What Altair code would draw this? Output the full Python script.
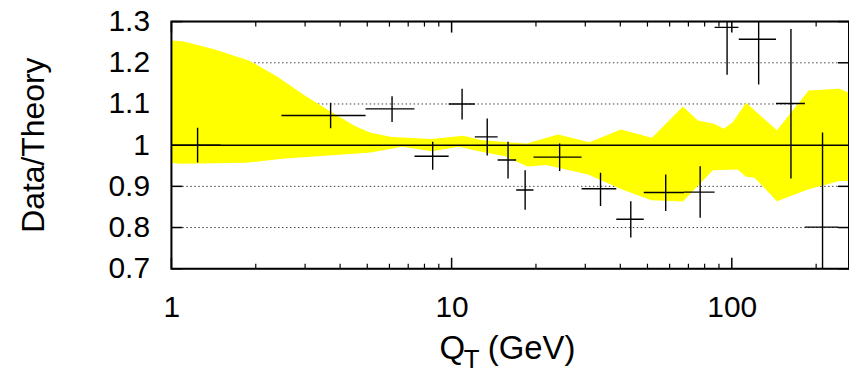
import math
import altair as alt
import pandas as pd

# ---- data ----
pt_x = [1.24, 3.70, 6.13, 8.56, 10.9, 13.4, 15.9, 18.3, 24.3, 34.0, 43.6, 58.1, 77.1, 96.2, 124.7, 162.6, 210.8]
pt_xlo = [1.0, 2.47, 4.93, 7.37, 9.76, 12.1, 14.6, 17.0, 19.6, 29.1, 38.7, 48.5, 67.5, 86.8, 105.9, 143.8, 182.4]
pt_xhi = [1.5, 4.93, 7.37, 9.76, 12.1, 14.6, 17.0, 19.6, 29.1, 38.7, 48.5, 67.5, 86.8, 105.6, 143.8, 182.4, 239.8]
pt_y = [1.000, 1.072, 1.088, 0.973, 1.100, 1.020, 0.964, 0.891, 0.971, 0.894, 0.820, 0.885, 0.886, 1.286, 1.257, 1.101, 0.801]
pt_ylo = [0.958, 1.041, 1.056, 0.940, 1.062, 0.975, 0.919, 0.843, 0.937, 0.852, 0.776, 0.840, 0.824, 1.171, 1.147, 0.919, 0.571]
pt_yhi = [1.042, 1.103, 1.119, 1.008, 1.137, 1.065, 1.008, 0.939, 1.004, 0.933, 0.864, 0.929, 0.949, 1.400, 1.367, 1.282, 1.031]

band_up_x = [1.0, 1.097, 1.42, 1.9, 2.39, 3.02, 3.86, 4.54, 5.14, 6.11, 8.51, 11.0, 12.8, 18.5, 24.0, 31.0,
             40.2, 51.9, 66.9, 75.7, 86.3, 93.7, 100.9, 112.4, 145, 188, 242, 262]
band_up = [1.254, 1.252, 1.233, 1.205, 1.166, 1.119, 1.074, 1.046, 1.030, 1.020, 1.015, 1.023, 1.012, 1.004,
           1.026, 1.007, 1.038, 1.018, 1.094, 1.060, 1.052, 1.040, 1.056, 1.103, 1.036, 1.133, 1.137, 1.127]
band_lo_x = [1.0, 1.07, 1.84, 2.49, 5.14, 6.66, 8.51, 10.6, 12.5, 15.5, 18.7, 21.8, 30.7, 40.4, 51.6, 66.9,
             85.6, 105, 112.4, 120.5, 145, 188, 242, 262]
band_lo = [0.957, 0.955, 0.957, 0.967, 0.982, 0.996, 0.985, 0.996, 0.985, 0.973, 0.948, 0.952, 0.929, 0.893,
           0.866, 0.863, 0.939, 0.941, 0.923, 0.921, 0.864, 0.893, 0.913, 0.913]

y_ticks = [0.7, 0.8, 0.9, 1.0, 1.1, 1.2, 1.3]
y_grid = [0.8, 0.9, 1.1, 1.2]
x_major = [1, 10, 100]
x_minor = [2, 3, 4, 5, 6, 7, 8, 9, 20, 30, 40, 50, 60, 70, 80, 90, 200]

X_DOMAIN = [1, 262]
Y_DOMAIN = [0.7, 1.3]

# ---- layout ----
W, H = 680, 248
FONT = "Liberation Sans"
MAJ, MIN = 11, 5  # inward tick lengths in px

# convert tick pixel lengths into data-space offsets
lx = math.log10(X_DOMAIN[1] / X_DOMAIN[0])
x_in_left = X_DOMAIN[0] * 10 ** (MAJ / W * lx)
x_in_right = X_DOMAIN[1] / 10 ** (MAJ / W * lx)
dy_maj = MAJ / H * (Y_DOMAIN[1] - Y_DOMAIN[0])
dy_min = MIN / H * (Y_DOMAIN[1] - Y_DOMAIN[0])
x_grid0 = X_DOMAIN[0] * 10 ** (11 / W * lx)
x_grid1 = X_DOMAIN[1] / 10 ** (11 / W * lx)

xs = alt.Scale(type="log", domain=X_DOMAIN, nice=False)
ys = alt.Scale(domain=Y_DOMAIN, nice=False, zero=False)

x_axis = alt.Axis(values=x_major, format="~g", labelFontSize=30, labelFont=FONT, labelColor="black",
                  labelPadding=24, ticks=False, tickSize=0, domain=False, grid=False, title=None,
                  labelFlush=False, labelOverlap=False, labelBound=False)
y_axis = alt.Axis(values=y_ticks, format="~g", labelFontSize=30, labelFont=FONT, labelColor="black",
                  labelPadding=22, ticks=False, tickSize=0, domain=False, grid=False, title=None,
                  labelOverlap=False, labelBound=False, labelFlush=False)


def X(field):
    return alt.X(field, type="quantitative", scale=xs, axis=x_axis)


def Y(field):
    return alt.Y(field, type="quantitative", scale=ys, axis=y_axis)


def XD(v):
    return alt.XDatum(v, type="quantitative", scale=xs, axis=x_axis)


def YD(v):
    return alt.YDatum(v, type="quantitative", scale=ys, axis=y_axis)


pts = pd.DataFrame(dict(x=pt_x, xlo=pt_xlo, xhi=pt_xhi, y=pt_y, ylo=pt_ylo, yhi=pt_yhi))
up = pd.DataFrame(dict(x=band_up_x, y=band_up))
lo = pd.DataFrame(dict(x=band_lo_x, y=band_lo))
ytk = pd.DataFrame(dict(y=y_ticks))
ygr = pd.DataFrame(dict(y=y_grid))
xmj = pd.DataFrame(dict(x=x_major))
xmn = pd.DataFrame(dict(x=x_minor))

# grid lines (dotted)
grid = alt.Chart(ygr).mark_rule(color="#444", strokeWidth=1, strokeDash=[1.5, 2.5]).encode(
    y=Y("y"), x=XD(x_grid0), x2=alt.datum(x_grid1))

# inward tick marks
tick_style = dict(color="black", strokeWidth=1.5)
yt_left = alt.Chart(ytk).mark_rule(**tick_style).encode(
    y=Y("y"), x=XD(X_DOMAIN[0]), x2=alt.datum(x_in_left))
yt_right = alt.Chart(ytk).mark_rule(**tick_style).encode(
    y=Y("y"), x=XD(X_DOMAIN[1]), x2=alt.datum(x_in_right))
xt_b = alt.Chart(xmj).mark_rule(**tick_style).encode(
    x=X("x"), y=YD(Y_DOMAIN[0]), y2=alt.datum(Y_DOMAIN[0] + dy_maj))
xt_t = alt.Chart(xmj).mark_rule(**tick_style).encode(
    x=X("x"), y=YD(Y_DOMAIN[1]), y2=alt.datum(Y_DOMAIN[1] - dy_maj))
xm_b = alt.Chart(xmn).mark_rule(color="black", strokeWidth=1.2).encode(
    x=X("x"), y=YD(Y_DOMAIN[0]), y2=alt.datum(Y_DOMAIN[0] + dy_min))
xm_t = alt.Chart(xmn).mark_rule(color="black", strokeWidth=1.2).encode(
    x=X("x"), y=YD(Y_DOMAIN[1]), y2=alt.datum(Y_DOMAIN[1] - dy_min))

# yellow band (upper half and lower half, both measured from the y = 1 line)
band_up_l = alt.Chart(up).mark_area(color="#ffff00", opacity=1, clip=True).encode(
    x=X("x"), y=Y("y"), y2=alt.datum(1.0))
band_lo_l = alt.Chart(lo).mark_area(color="#ffff00", opacity=1, clip=True).encode(
    x=X("x"), y=Y("y"), y2=alt.datum(1.0))

# y = 1 line
one = alt.Chart(pd.DataFrame(dict(y=[1.0]))).mark_rule(color="black", strokeWidth=1.5).encode(y=Y("y"))

# error bars
hbar = alt.Chart(pts).mark_rule(color="black", strokeWidth=1.4, clip=True).encode(
    x=X("xlo"), x2="xhi:Q", y=Y("y"))
vbar = alt.Chart(pts).mark_rule(color="black", strokeWidth=1.4, clip=True).encode(
    x=X("x"), y=Y("ylo"), y2="yhi:Q")

# frame
one_row = pd.DataFrame(dict(a=[0]))
frame = alt.Chart(one_row).mark_rect(
    fill="white", fillOpacity=0, stroke="black", strokeWidth=2
).encode(x=alt.value(0), x2=alt.value(W), y=alt.value(0), y2=alt.value(H))

ytitle = alt.Chart(one_row).mark_text(text="Data/Theory", angle=270, fontSize=32, font=FONT,
                                      align="center", baseline="middle", color="black").encode(
    x=alt.value(-138), y=alt.value(124))
q = alt.Chart(one_row).mark_text(text="Q", fontSize=33, font=FONT, align="left",
                                 baseline="alphabetic", color="black").encode(
    x=alt.value(269), y=alt.value(339))
t = alt.Chart(one_row).mark_text(text="T", fontSize=26, font=FONT, align="left",
                                 baseline="alphabetic", color="black").encode(
    x=alt.value(293.5), y=alt.value(347.5))
gev = alt.Chart(one_row).mark_text(text="(GeV)", fontSize=33, font=FONT, align="left",
                                   baseline="alphabetic", color="black").encode(
    x=alt.value(317.5), y=alt.value(339))

chart = alt.layer(
    grid, yt_left, yt_right, xt_b, xt_t, xm_b, xm_t,
    band_up_l, band_lo_l, one, hbar, vbar, frame, ytitle, q, t, gev
).properties(
    width=W, height=H,
    autosize=alt.AutoSizeParams(type="none"),
    padding={"left": 164, "top": 13, "right": 0, "bottom": 103},
).configure_view(stroke=None).configure(background="white")

chart.save("out.html", embed_options={"renderer": "svg", "actions": False})
